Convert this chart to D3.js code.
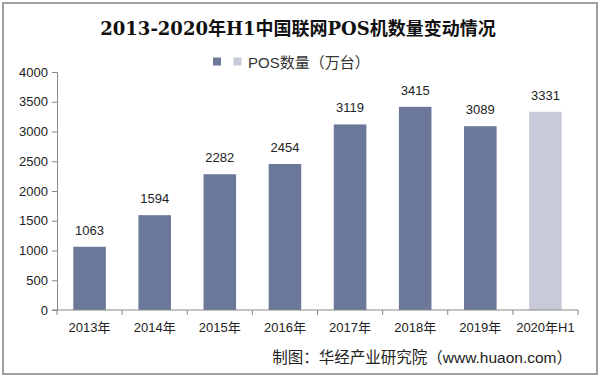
<!DOCTYPE html>
<html>
<head>
<meta charset="utf-8">
<script src="https://cdn.jsdelivr.net/npm/d3@7"></script>
<style>
  body { margin: 0; background: #fff; }
  svg { display: block; font-family: "Liberation Sans", "Noto Sans CJK SC", sans-serif; }
</style>
</head>
<body>
<div id="chart"></div>
<script>
// Data
const years = ["2013年", "2014年", "2015年", "2016年", "2017年", "2018年", "2019年", "2020年H1"];
const posCount = [1063, 1594, 2282, 2454, 3119, 3415, 3089, 3331];
const yTicks = [0, 500, 1000, 1500, 2000, 2500, 3000, 3500, 4000];

const W = 600, H = 378;
const margin = { top: 72, right: 22, bottom: 68, left: 57 };

const svg = d3.select("#chart").append("svg")
    .attr("width", W)
    .attr("height", H);

// outer frame
svg.append("rect")
    .attr("x", 3).attr("y", 3)
    .attr("width", W - 6).attr("height", H - 7)
    .attr("fill", "#fff")
    .attr("stroke", "#a0a0a0")
    .attr("stroke-width", 2);

const x = d3.scaleBand()
    .domain(years)
    .range([margin.left, W - margin.right])
    .paddingInner(0.5)
    .paddingOuter(0.25);

const y = d3.scaleLinear()
    .domain([0, 4000])
    .range([H - margin.bottom, margin.top]);

// title
svg.append("text")
    .attr("x", 298).attr("y", 35)
    .attr("text-anchor", "middle")
    .attr("font-family", "'DejaVu Serif', 'Noto Sans CJK SC', serif")
    .attr("font-weight", "bold")
    .attr("font-size", 18)
    .attr("fill", "#111")
    .text("2013-2020年H1中国联网POS机数量变动情况");

// legend
svg.append("rect").attr("x", 213).attr("y", 57.5).attr("width", 8).attr("height", 8).attr("fill", "#6b7899");
svg.append("rect").attr("x", 233.5).attr("y", 57.5).attr("width", 8).attr("height", 8).attr("fill", "#c8cad9");
svg.append("text")
    .attr("x", 248).attr("y", 67.5)
    .attr("font-size", 15)
    .attr("fill", "#333")
    .text("POS数量（万台）");

// bars
svg.append("g")
    .selectAll("rect")
    .data(posCount)
    .join("rect")
    .attr("x", (d, i) => x(years[i]))
    .attr("y", d => y(d))
    .attr("width", x.bandwidth())
    .attr("height", d => y(0) - y(d))
    .attr("fill", (d, i) => i === years.length - 1 ? "#c8cad9" : "#6b7899");

// value labels
svg.append("g")
    .selectAll("text")
    .data(posCount)
    .join("text")
    .attr("x", (d, i) => x(years[i]) + x.bandwidth() / 2)
    .attr("y", d => y(d) - 12)
    .attr("text-anchor", "middle")
    .attr("font-size", 13)
    .attr("fill", "#222")
    .text(d => d);

// y axis
const yAxis = svg.append("g")
    .attr("transform", `translate(${margin.left},0)`)
    .call(d3.axisLeft(y).tickValues(yTicks).tickFormat(d3.format("d")).tickSize(5).tickSizeOuter(5).tickPadding(4));
yAxis.selectAll("text").attr("font-size", 13).attr("fill", "#222")
    .attr("font-family", "'Liberation Sans', sans-serif");
yAxis.selectAll("path, line").attr("stroke", "#888");

// x axis with ticks on band boundaries
const xAxisG = svg.append("g")
    .attr("transform", `translate(0,${y(0)})`);
xAxisG.append("line")
    .attr("x1", margin.left - 5).attr("x2", W - margin.right)
    .attr("stroke", "#888");
const step = x.step();
const bounds = d3.range(years.length + 1).map(i => x(years[0]) - x.paddingInner() * step / 2 + i * step);
xAxisG.selectAll("line.tick")
    .data(bounds)
    .join("line")
    .attr("class", "tick")
    .attr("x1", d => d).attr("x2", d => d)
    .attr("y1", 0).attr("y2", 5)
    .attr("stroke", "#888");
xAxisG.selectAll("text")
    .data(years)
    .join("text")
    .attr("x", d => x(d) + x.bandwidth() / 2)
    .attr("y", 22)
    .attr("text-anchor", "middle")
    .attr("font-size", 13)
    .attr("fill", "#222")
    .text(d => d);

// source note
svg.append("text")
    .attr("x", 572).attr("y", 363)
    .attr("text-anchor", "end")
    .attr("font-size", 15.5)
    .attr("fill", "#222")
    .text("制图：华经产业研究院（www.huaon.com）");
</script>
</body>
</html>
